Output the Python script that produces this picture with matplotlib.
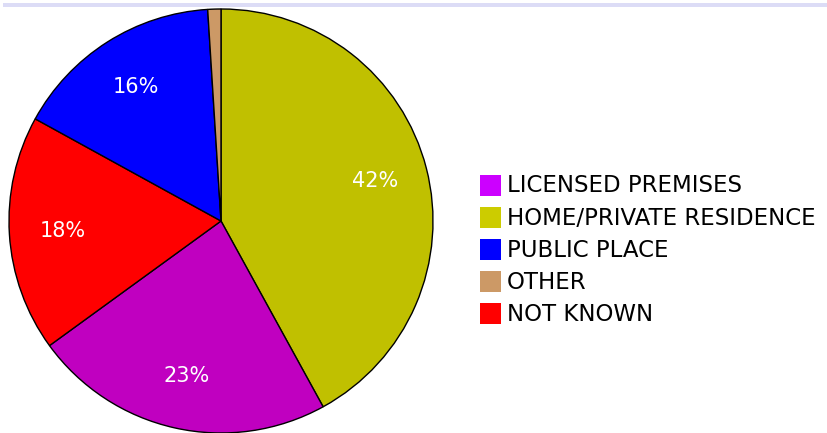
import matplotlib.pyplot as plt
from matplotlib.patches import Rectangle

# slices in clockwise order from 12 o'clock
pie_labels = ['HOME/PRIVATE RESIDENCE', 'LICENSED PREMISES', 'NOT KNOWN', 'PUBLIC PLACE', 'OTHER']
pie_values = [42, 23, 18, 16, 1]
pie_text = ['42%', '23%', '18%', '16%', '']
pie_colors = ['#C0C000', '#C000C0', '#FF0000', '#0000FF', '#CC9966']

legend_labels = ['LICENSED PREMISES', 'HOME/PRIVATE RESIDENCE', 'PUBLIC PLACE', 'OTHER', 'NOT KNOWN']
legend_colors = ['#CC00FF', '#CCCC00', '#0000FF', '#CC9966', '#FF0000']

W, H = 827, 433
fig = plt.figure(figsize=(W / 100, H / 100), dpi=100)

# thin lavender band along the top
fig.patches.append(Rectangle((3 / W, 1 - 6.5 / H), 1 - 3 / W, 3.5 / H,
                             transform=fig.transFigure, color='#DCDCF6', lw=0))

cx, cy, r = 221, 221, 212
ax = fig.add_axes([(cx - r) / W, (H - cy - r) / H, 2 * r / W, 2 * r / H])
wedges, texts = ax.pie(pie_values, colors=pie_colors, labels=pie_text,
                       startangle=90, counterclock=False, labeldistance=0.75,
                       wedgeprops=dict(edgecolor='black', linewidth=1))
for t in texts:
    t.set_color('white')
    t.set_fontsize(15)
    t.set_ha('center')
    t.set_va('center')
ax.set_xlim(-1.0, 1.0)
ax.set_ylim(-1.0, 1.0)
ax.set_aspect('equal')
ax.axis('off')

# legend
for i, (lab, col) in enumerate(zip(legend_labels, legend_colors)):
    yc = 185 + i * 32.2
    fig.patches.append(Rectangle((480 / W, 1 - (yc + 10.5) / H), 21 / W, 21 / H,
                                 transform=fig.transFigure, color=col, lw=0))
    fig.text(507 / W, 1 - (yc + 1) / H, lab, fontsize=16.5, color='black',
             va='center', ha='left')

fig.savefig('out.png', dpi=100)
